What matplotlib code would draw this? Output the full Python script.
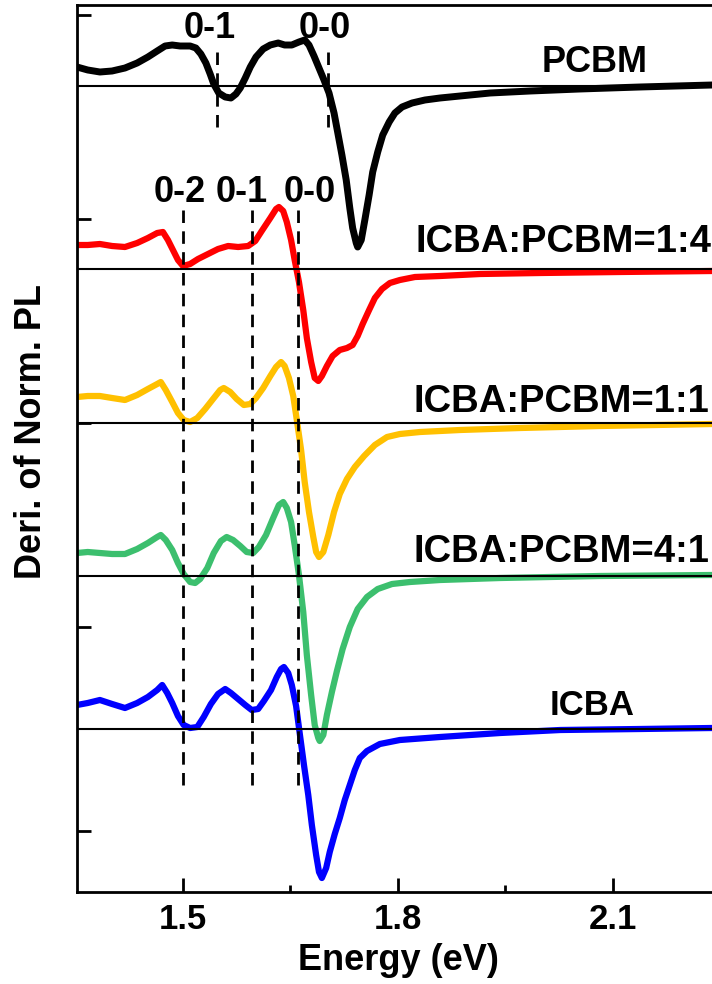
import matplotlib
matplotlib.use('Agg')
import matplotlib.pyplot as plt
from matplotlib.ticker import MultipleLocator, FixedLocator

plt.rcParams['font.family'] = ['Liberation Sans', 'DejaVu Sans']
plt.rcParams['font.weight'] = 'bold'

pcbm_e = [1.352, 1.367, 1.384, 1.401, 1.419, 1.436, 1.451, 1.464, 1.475, 1.485,
          1.496, 1.510, 1.518, 1.525, 1.532, 1.538, 1.543, 1.550, 1.559, 1.567,
          1.574, 1.580, 1.587, 1.594, 1.602, 1.612, 1.622, 1.633, 1.642, 1.652,
          1.662, 1.670, 1.676, 1.683, 1.690, 1.697, 1.704, 1.711, 1.716, 1.722,
          1.728, 1.733, 1.737, 1.742, 1.744, 1.749, 1.754, 1.760, 1.765, 1.772,
          1.779, 1.788, 1.796, 1.806, 1.820, 1.838, 1.859, 1.887, 1.929, 1.985,
          2.054, 2.138, 2.239]
pcbm_v = [0.19, 0.16, 0.14, 0.15, 0.18, 0.23, 0.29, 0.35, 0.40, 0.41,
          0.40, 0.40, 0.38, 0.32, 0.23, 0.12, 0.02, -0.07, -0.11, -0.12,
          -0.08, -0.02, 0.08, 0.19, 0.29, 0.37, 0.41, 0.43, 0.41, 0.41,
          0.44, 0.46, 0.41, 0.30, 0.18, 0.06, -0.07, -0.27, -0.46, -0.69,
          -0.94, -1.22, -1.42, -1.57, -1.61, -1.54, -1.34, -1.09, -0.86, -0.66,
          -0.49, -0.36, -0.27, -0.21, -0.17, -0.14, -0.12, -0.10, -0.07, -0.05,
          -0.03, -0.01, 0.01]

r14_e = [1.352, 1.367, 1.384, 1.401, 1.419, 1.436, 1.451, 1.464, 1.472, 1.479,
         1.486, 1.493, 1.500, 1.510, 1.521, 1.535, 1.549, 1.563, 1.577, 1.591,
         1.601, 1.610, 1.622, 1.630, 1.634, 1.640, 1.645, 1.651, 1.656, 1.662,
         1.668, 1.673, 1.679, 1.684, 1.689, 1.694, 1.701, 1.709, 1.719, 1.729,
         1.737, 1.744, 1.751, 1.760, 1.768, 1.778, 1.789, 1.803, 1.824, 1.859,
         1.915, 1.999, 2.110, 2.239]
r14_v = [0.24, 0.24, 0.25, 0.23, 0.22, 0.26, 0.31, 0.36, 0.37, 0.29,
         0.19, 0.09, 0.03, 0.05, 0.10, 0.15, 0.20, 0.23, 0.22, 0.23,
         0.28, 0.38, 0.51, 0.60, 0.62, 0.58, 0.47, 0.29, 0.09, -0.13,
         -0.41, -0.69, -0.93, -1.09, -1.12, -1.07, -0.97, -0.87, -0.81, -0.79,
         -0.76, -0.67, -0.55, -0.41, -0.29, -0.20, -0.14, -0.11, -0.08, -0.07,
         -0.05, -0.04, -0.03, -0.02]

r11_e = [1.352, 1.367, 1.384, 1.401, 1.419, 1.436, 1.451, 1.464, 1.469, 1.476,
         1.485, 1.493, 1.501, 1.510, 1.520, 1.531, 1.542, 1.552, 1.557, 1.566,
         1.575, 1.585, 1.594, 1.602, 1.612, 1.622, 1.630, 1.637, 1.642, 1.648,
         1.654, 1.659, 1.665, 1.670, 1.676, 1.682, 1.686, 1.690, 1.696, 1.703,
         1.711, 1.719, 1.729, 1.740, 1.753, 1.768, 1.785, 1.803, 1.831, 1.887,
         1.971, 2.082, 2.239]
r11_v = [0.26, 0.27, 0.27, 0.25, 0.23, 0.28, 0.34, 0.39, 0.41, 0.33,
         0.21, 0.10, 0.03, 0.01, 0.05, 0.14, 0.24, 0.33, 0.35, 0.31,
         0.24, 0.18, 0.19, 0.25, 0.35, 0.47, 0.56, 0.61, 0.57, 0.45,
         0.27, 0.03, -0.27, -0.59, -0.89, -1.14, -1.29, -1.34, -1.29, -1.12,
         -0.89, -0.71, -0.56, -0.44, -0.33, -0.22, -0.14, -0.11, -0.09, -0.07,
         -0.05, -0.03, -0.01]

r41_e = [1.352, 1.367, 1.384, 1.401, 1.419, 1.436, 1.451, 1.464, 1.469, 1.476,
         1.485, 1.493, 1.501, 1.510, 1.517, 1.524, 1.534, 1.543, 1.553, 1.561,
         1.570, 1.580, 1.589, 1.598, 1.606, 1.616, 1.626, 1.634, 1.640, 1.645,
         1.651, 1.656, 1.662, 1.668, 1.673, 1.679, 1.684, 1.689, 1.691, 1.696,
         1.701, 1.708, 1.715, 1.723, 1.733, 1.744, 1.757, 1.772, 1.792, 1.817,
         1.859, 1.943, 2.082, 2.239]
r41_v = [0.23, 0.24, 0.23, 0.22, 0.22, 0.27, 0.33, 0.39, 0.41, 0.36,
         0.26, 0.13, 0.02, -0.06, -0.07, -0.03, 0.08, 0.23, 0.35, 0.39,
         0.36, 0.30, 0.24, 0.23, 0.29, 0.41, 0.58, 0.71, 0.74, 0.68,
         0.54, 0.31, 0.01, -0.36, -0.79, -1.19, -1.49, -1.62, -1.65, -1.59,
         -1.39, -1.16, -0.95, -0.73, -0.51, -0.33, -0.21, -0.13, -0.08, -0.06,
         -0.04, -0.02, 0.00, 0.01]

icba_e = [1.352, 1.367, 1.384, 1.401, 1.419, 1.436, 1.451, 1.464, 1.471, 1.478,
          1.485, 1.493, 1.501, 1.510, 1.520, 1.529, 1.539, 1.549, 1.559, 1.567,
          1.577, 1.587, 1.596, 1.605, 1.613, 1.623, 1.631, 1.637, 1.641, 1.647,
          1.652, 1.658, 1.663, 1.669, 1.675, 1.680, 1.686, 1.690, 1.694, 1.700,
          1.705, 1.712, 1.719, 1.726, 1.733, 1.740, 1.747, 1.757, 1.775, 1.803,
          1.859, 1.943, 2.027, 2.138, 2.239]
icba_v = [0.24, 0.26, 0.29, 0.25, 0.21, 0.26, 0.32, 0.39, 0.44, 0.36,
          0.26, 0.13, 0.04, 0.01, 0.02, 0.12, 0.25, 0.35, 0.40, 0.36,
          0.30, 0.24, 0.19, 0.20, 0.28, 0.39, 0.52, 0.60, 0.62, 0.56,
          0.44, 0.23, -0.04, -0.36, -0.66, -0.96, -1.26, -1.43, -1.49, -1.39,
          -1.23, -1.05, -0.89, -0.71, -0.56, -0.41, -0.29, -0.22, -0.15, -0.11,
          -0.08, -0.04, -0.01, 0.00, 0.01]

names = ['PCBM', 'ICBA:PCBM=1:4', 'ICBA:PCBM=1:1', 'ICBA:PCBM=4:1', 'ICBA']
offsets = [6.43, 4.60, 3.06, 1.53, 0.0]
colors = ['black', '#ff0000', '#ffc000', '#3cbf6e', '#0000ff']
widths = [5.0, 4.5, 4.5, 4.5, 4.5]
energies = [pcbm_e, r14_e, r11_e, r41_e, icba_e]
values = [pcbm_v, r14_v, r11_v, r41_v, icba_v]

# vibronic peak positions and label positions
pcbm_peaks = [1.548, 1.702]
pcbm_label_x = [1.537, 1.698]
pcbm_peak_labels = ['0-1', '0-0']
blend_peaks = [1.5, 1.597, 1.661]
blend_label_x = [1.496, 1.582, 1.677]
blend_peak_labels = ['0-2', '0-1', '0-0']

fig = plt.figure(figsize=(7.12, 9.84), dpi=100)
ax = fig.add_axes([77 / 712, 1 - 892 / 984, (2.30 - 1.352) * 716 / 712, 887 / 984])

for e, v, off, c, w in zip(energies, values, offsets, colors, widths):
    ax.plot(e, [y + off for y in v], color=c, lw=w, solid_joinstyle='round',
            solid_capstyle='round', zorder=2)
    ax.axhline(off, color='black', lw=1.5, zorder=3)

for p in pcbm_peaks:
    ax.plot([p, p], [6.02, 6.84], color='black', lw=2, dashes=(4.5, 3), zorder=4)
for p in blend_peaks:
    ax.plot([p, p], [-0.56, 5.19], color='black', lw=2, dashes=(4.5, 3), zorder=4)

for x, t in zip(pcbm_label_x, pcbm_peak_labels):
    ax.text(x, 6.91, t, ha='center', va='baseline', fontsize=26, fontweight='bold')
for x, t in zip(blend_label_x, blend_peak_labels):
    ax.text(x, 5.27, t, ha='center', va='baseline', fontsize=26, fontweight='bold')

ax.text(2.075, 6.57, names[0], ha='center', va='baseline', fontsize=26, fontweight='bold')
ax.text(2.238, 4.77, names[1], ha='right', va='baseline', fontsize=27.5, fontweight='bold')
ax.text(2.235, 3.17, names[2], ha='right', va='baseline', fontsize=27.5, fontweight='bold')
ax.text(2.235, 1.67, names[3], ha='right', va='baseline', fontsize=27.5, fontweight='bold')
ax.text(2.071, 0.14, names[4], ha='center', va='baseline', fontsize=25, fontweight='bold')

ax.set_xlim(1.352, 2.30)
ax.set_ylim(-1.63, 7.24)
ax.xaxis.set_major_locator(FixedLocator([1.5, 1.8, 2.1]))
ax.xaxis.set_minor_locator(FixedLocator([1.65, 1.95]))
ax.yaxis.set_major_locator(MultipleLocator(2.04, offset=1.02))
ax.set_yticklabels([])
ax.tick_params(axis='both', which='major', direction='in', length=10, width=2, labelsize=25, pad=8)
ax.tick_params(axis='x', which='minor', direction='in', length=5, width=2)
ax.tick_params(top=False, right=False)
ax.set_xticklabels(['1.5', '1.8', '2.1'], fontweight='bold')
for s in ['left', 'bottom', 'top']:
    ax.spines[s].set_linewidth(2)
ax.spines['right'].set_visible(False)

fig.text(32 / 712, 1 - 432 / 984, 'Deri. of Norm. PL', rotation=90, ha='center', va='center',
         fontsize=26, fontweight='bold')
fig.text(398 / 712, 1 - 960 / 984, 'Energy (eV)', ha='center', va='center',
         fontsize=26, fontweight='bold')

fig.savefig('out.png', dpi=100)
